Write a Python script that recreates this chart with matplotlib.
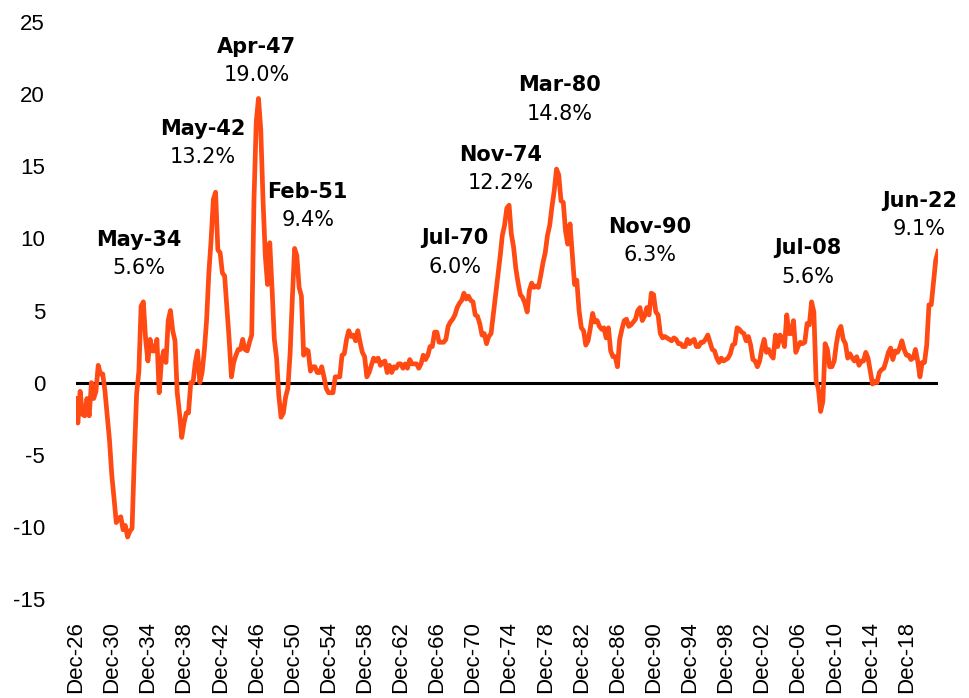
import pandas as pd
import matplotlib
matplotlib.use("Agg")
import matplotlib.pyplot as plt

plt.rcParams["axes.unicode_minus"] = False

# US CPI, year-over-year %, quarterly readings (Mar, Jun, Sep, Dec)
cpi_1920s = [-1.1,
             -2.8, -0.6, -2.2, -2.3,
             -1.1, -2.3, 0.0, -1.1,
             -0.6, 1.2, 0.6, 0.6]
cpi_1930s = [-0.6, -2.3, -4.0, -6.4,
             -8.0, -9.7, -9.4, -9.3,
             -10.2, -9.9, -10.7, -10.3,
             -10.1, -5.2, -0.8, 0.8,
             5.3, 5.6, 3.0, 1.5,
             3.0, 2.2, 2.2, 3.0,
             -0.7, 1.5, 2.2, 1.4,
             4.3, 5.0, 3.6, 2.9,
             -0.7, -2.1, -3.8, -2.8,
             -2.1, -2.1, 0.0, 0.0]
cpi_1940s = [1.4, 2.2, 0.0, 0.7,
             2.2, 4.3, 7.6, 9.9,
             12.7, 13.2, 9.2, 9.0,
             7.6, 7.4, 5.2, 3.0,
             0.4, 1.4, 1.9, 2.3,
             2.3, 3.0, 2.3, 2.2,
             2.8, 3.3, 12.7, 18.1,
             19.7, 17.6, 12.7, 8.8,
             6.8, 9.7, 6.5, 3.0,
             1.7, -0.9, -2.4, -2.1]
cpi_1950s = [-1.0, -0.4, 2.0, 5.9,
             9.3, 8.8, 6.6, 6.0,
             1.9, 2.3, 2.2, 0.8,
             1.1, 1.1, 0.7, 0.7,
             1.1, 0.4, -0.4, -0.7,
             -0.7, -0.7, 0.4, 0.4,
             0.4, 1.9, 2.0, 3.0,
             3.6, 3.2, 3.3, 2.9,
             3.6, 2.8, 2.1, 1.8,
             0.4, 0.7, 1.2, 1.7]
cpi_1960s = [1.5, 1.7, 1.2, 1.4,
             1.5, 0.7, 1.2, 0.7,
             1.1, 1.0, 1.3, 1.3,
             1.0, 1.3, 1.0, 1.6,
             1.3, 1.3, 1.3, 1.0,
             1.3, 1.9, 1.6, 1.9,
             2.5, 2.5, 3.5, 3.5,
             2.8, 2.8, 2.8, 3.0,
             3.9, 4.2, 4.4, 4.7,
             5.2, 5.5, 5.7, 6.2]
cpi_1970s = [5.8, 6.0, 5.7, 5.6,
             4.7, 4.6, 4.1, 3.3,
             3.4, 2.7, 3.2, 3.4,
             4.7, 6.0, 7.4, 8.7,
             10.2, 10.9, 12.1, 12.3,
             10.3, 9.4, 7.9, 6.9,
             6.1, 5.9, 5.5, 4.9,
             6.4, 6.9, 6.6, 6.7,
             6.6, 7.4, 8.3, 9.0,
             10.2, 10.9, 12.2, 13.3]
cpi_1980s = [14.8, 14.4, 12.6, 12.5,
             10.5, 9.6, 11.0, 8.9,
             6.8, 7.1, 5.0, 3.8,
             3.6, 2.6, 2.9, 3.8,
             4.8, 4.2, 4.3, 3.9,
             3.7, 3.8, 3.1, 3.8,
             2.2, 1.8, 1.8, 1.1,
             3.0, 3.7, 4.3, 4.4,
             3.9, 4.0, 4.2, 4.4,
             5.0, 5.2, 4.3, 4.6]
cpi_1990s = [5.2, 4.7, 6.2, 6.1,
             4.9, 4.7, 3.4, 3.1,
             3.2, 3.1, 3.0, 2.9,
             3.1, 3.0, 2.7, 2.7,
             2.5, 2.5, 3.0, 2.7,
             2.9, 3.0, 2.5, 2.5,
             2.8, 2.8, 3.0, 3.3,
             2.8, 2.3, 2.2, 1.7,
             1.4, 1.7, 1.5, 1.6,
             1.7, 2.0, 2.6, 2.7]
cpi_2000s = [3.8, 3.7, 3.5, 3.4,
             2.9, 3.2, 2.6, 1.6,
             1.5, 1.1, 1.5, 2.4,
             3.0, 2.1, 2.3, 1.9,
             1.7, 3.3, 2.5, 3.3,
             3.1, 2.5, 4.7, 3.4,
             3.4, 4.3, 2.1, 2.5,
             2.8, 2.7, 2.8, 4.1,
             4.0, 5.6, 4.9, 0.1,
             -0.4, -2.0, -1.3, 2.7]
cpi_2010s = [2.3, 1.1, 1.1, 1.5,
             2.7, 3.6, 3.9, 3.0,
             2.7, 1.7, 2.0, 1.7,
             1.5, 1.8, 1.2, 1.5,
             1.5, 2.1, 1.7, 0.8,
             -0.1, 0.1, 0.0, 0.7,
             0.9, 1.0, 1.5, 2.1,
             2.4, 1.6, 2.2, 2.1,
             2.4, 2.9, 2.3, 1.9,
             1.9, 1.6, 1.7, 2.3]
cpi_2020s = [1.5, 0.4, 1.4, 1.4,
             2.6, 5.4, 5.4, 7.0,
             8.5, 9.1]

peak_names = ["May-34", "May-42", "Apr-47", "Feb-51", "Jul-70",
              "Nov-74", "Mar-80", "Nov-90", "Jul-08", "Jun-22"]
peak_values = ["5.6%", "13.2%", "19.0%", "9.4%", "6.0%",
               "12.2%", "14.8%", "6.3%", "5.6%", "9.1%"]

cpi = (cpi_1920s + cpi_1930s + cpi_1940s + cpi_1950s + cpi_1960s
       + cpi_1970s + cpi_1980s + cpi_1990s + cpi_2000s + cpi_2010s + cpi_2020s)
dates = pd.date_range("1926-12-31", periods=len(cpi), freq="QE")

# label spots (date, y of the bold line)
label_pos = [((1934, 1), 9.9), ((1941, 2), 17.6), ((1947, 1), 23.3),
             ((1952, 9), 13.2), ((1968, 12), 10.0), ((1974, 1), 15.8),
             ((1980, 8), 20.6), ((1990, 8), 10.8), ((2008, 1), 9.3),
             ((2020, 6), 12.6)]

orange = "#ff4a14"

fig = plt.figure(figsize=(9.7, 6.98), dpi=100)
ax = fig.add_axes([0.078, 0.1418, 0.889, 0.8267])

ax.plot(dates, cpi, color=orange, linewidth=3.4, solid_joinstyle="round")
ax.axhline(0, color="black", linewidth=2.2, zorder=1)

ax.set_ylim(-15, 25)
ax.set_yticks(range(-15, 26, 5))
ax.set_xlim(dates[0], dates[-1])

ticks = [pd.Timestamp(y, 12, 31) for y in range(1926, 2019, 4)]
ax.set_xticks(ticks)
ax.set_xticklabels([t.strftime("%b-%y") for t in ticks], rotation=90)

for lab in ax.get_xticklabels() + ax.get_yticklabels():
    lab.set_family("Liberation Sans")
    lab.set_fontsize(16)
ax.tick_params(axis="y", length=0, pad=22)
ax.tick_params(axis="x", length=0, pad=16)

for s in ax.spines.values():
    s.set_visible(False)

for name, val, ((yr, mo), y) in zip(peak_names, peak_values, label_pos):
    x = pd.Timestamp(yr, mo, 15)
    ax.text(x, y, name, ha="center", va="center", fontsize=15,
            fontweight="bold", family="DejaVu Sans", color="black")
    ax.text(x, y - 1.95, val, ha="center", va="center", fontsize=15,
            family="DejaVu Sans", color="black")

fig.savefig("out.png", dpi=100)
